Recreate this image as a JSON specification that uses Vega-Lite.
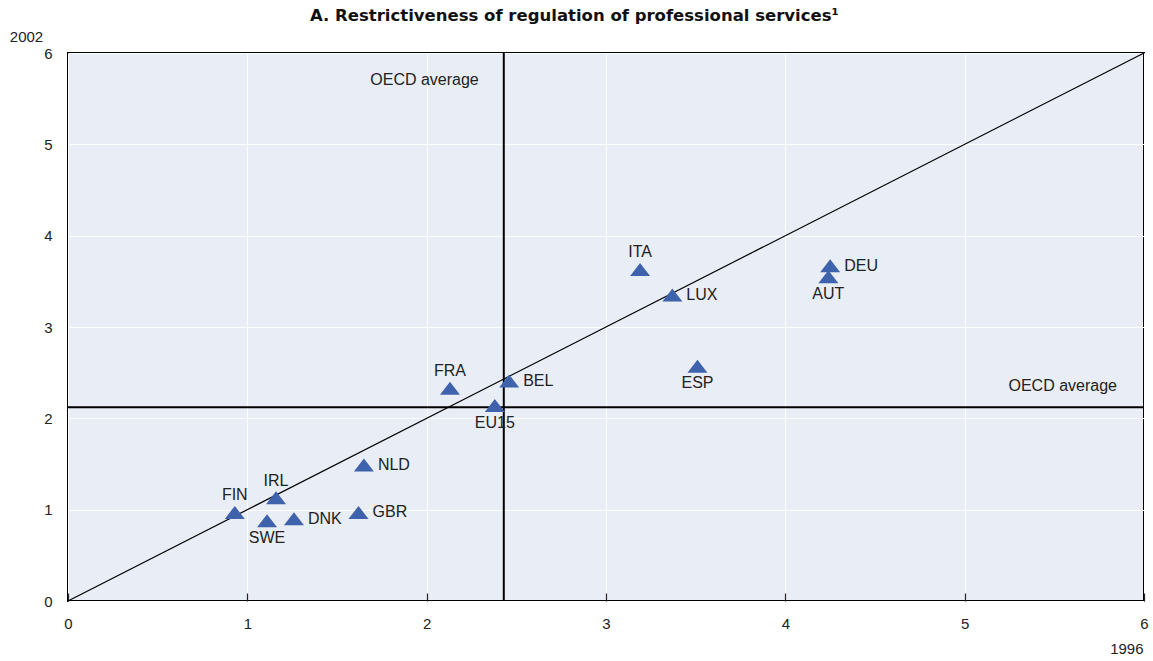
{
  "$schema": "https://vega.github.io/schema/vega-lite/v6.json",
  "width": 1076,
  "height": 548,
  "autosize": "none",
  "padding": {"left": 68, "top": 53, "right": 9, "bottom": 60},
  "background": "white",
  "title": {
    "text": "A. Restrictiveness of regulation of professional services¹",
    "font": "DejaVu Sans",
    "fontSize": 16.5,
    "fontWeight": "bold",
    "color": "#111111",
    "anchor": "start",
    "frame": "group",
    "dx": 242,
    "offset": 5
  },
  "config": {
    "view": {"stroke": "black", "strokeWidth": 2, "fill": "#e9edf5"}
  },
  "datasets": {
    "countries": [
      {"country": "FIN", "y1996": 0.93, "y2002": 0.97},
      {"country": "IRL", "y1996": 1.16, "y2002": 1.13},
      {"country": "SWE", "y1996": 1.11, "y2002": 0.88},
      {"country": "DNK", "y1996": 1.26, "y2002": 0.90},
      {"country": "GBR", "y1996": 1.62, "y2002": 0.97},
      {"country": "NLD", "y1996": 1.65, "y2002": 1.49},
      {"country": "FRA", "y1996": 2.13, "y2002": 2.33},
      {"country": "BEL", "y1996": 2.46, "y2002": 2.41},
      {"country": "EU15", "y1996": 2.38, "y2002": 2.14},
      {"country": "ITA", "y1996": 3.19, "y2002": 3.63},
      {"country": "LUX", "y1996": 3.37, "y2002": 3.35},
      {"country": "ESP", "y1996": 3.51, "y2002": 2.57},
      {"country": "DEU", "y1996": 4.25, "y2002": 3.67},
      {"country": "AUT", "y1996": 4.24, "y2002": 3.55}
    ],
    "oecd": [{"avg1996": 2.43, "avg2002": 2.12}],
    "diagonal": [{"a": 0, "b": 0}, {"a": 6, "b": 6}]
  },
  "layer": [
    {
      "data": {"name": "diagonal"},
      "mark": {"type": "line", "color": "black", "strokeWidth": 1.2},
      "encoding": {
        "x": {
          "field": "a",
          "type": "quantitative",
          "title": "1996",
          "scale": {"domain": [0, 6], "nice": false},
          "axis": {
            "values": [0, 1, 2, 3, 4, 5, 6],
            "format": "d",
            "labelFont": "Liberation Sans",
            "labelFontSize": 15,
            "labelColor": "#222222",
            "labelFlush": false,
            "titleFont": "Liberation Sans",
            "titleFontSize": 15,
            "titleFontWeight": "normal",
            "titleColor": "#222222",
            "grid": true,
            "gridColor": "white",
            "gridWidth": 1,
            "domain": false,
            "ticks": true,
            "tickSize": -8,
            "tickColor": "#222222",
            "tickWidth": 1.2,
            "labelPadding": 23,
            "titleAngle": 0,
            "titleX": 1075,
            "titleY": 47,
            "titleAlign": "right",
            "titleBaseline": "middle"
          }
        },
        "y": {
          "field": "b",
          "type": "quantitative",
          "title": "2002",
          "scale": {"domain": [0, 6], "nice": false},
          "axis": {
            "values": [0, 1, 2, 3, 4, 5, 6],
            "format": "d",
            "labelFont": "Liberation Sans",
            "labelFontSize": 15,
            "labelColor": "#222222",
            "titleFont": "Liberation Sans",
            "titleFontSize": 15,
            "titleFontWeight": "normal",
            "titleColor": "#222222",
            "grid": true,
            "gridColor": "white",
            "gridWidth": 1,
            "domain": false,
            "ticks": false,
            "labelPadding": 16,
            "titleAngle": 0,
            "titleX": -42,
            "titleY": -17,
            "titleAlign": "center",
            "titleBaseline": "middle"
          }
        }
      }
    },
    {
      "data": {"name": "oecd"},
      "mark": {"type": "rule", "color": "black", "strokeWidth": 2},
      "encoding": {
        "x": {"field": "avg1996", "type": "quantitative", "title": "1996"}
      }
    },
    {
      "data": {"name": "oecd"},
      "mark": {"type": "rule", "color": "black", "strokeWidth": 2},
      "encoding": {
        "y": {"field": "avg2002", "type": "quantitative", "title": "2002"}
      }
    },
    {
      "data": {"name": "oecd"},
      "mark": {"type": "text", "text": "OECD average", "font": "Liberation Sans", "fontSize": 16, "color": "#222222", "align": "right", "baseline": "middle", "dx": -25},
      "encoding": {
        "x": {"field": "avg1996", "type": "quantitative", "title": "1996"},
        "y": {"datum": 5.7, "type": "quantitative", "title": "2002"}
      }
    },
    {
      "data": {"name": "oecd"},
      "mark": {"type": "text", "text": "OECD average", "font": "Liberation Sans", "fontSize": 16, "color": "#222222", "align": "right", "baseline": "middle", "dx": -27, "dy": -21},
      "encoding": {
        "x": {"datum": 6, "type": "quantitative", "title": "1996"},
        "y": {"field": "avg2002", "type": "quantitative", "title": "2002"}
      }
    },
    {
      "data": {"name": "countries"},
      "mark": {"type": "point", "shape": "M-1,0.65L1,0.65L0,-0.65Z", "filled": true, "size": 400, "color": "#3f62ad", "opacity": 1},
      "encoding": {
        "x": {"field": "y1996", "type": "quantitative", "title": "1996"},
        "y": {"field": "y2002", "type": "quantitative", "title": "2002"}
      }
    },
    {
      "data": {"name": "countries"},
      "transform": [{"filter": {"field": "country", "oneOf": ["DNK", "GBR", "NLD", "BEL", "LUX", "DEU"]}}],
      "mark": {"type": "text", "font": "Liberation Sans", "fontSize": 16, "color": "#222222", "align": "left", "baseline": "middle", "dx": 14},
      "encoding": {
        "x": {"field": "y1996", "type": "quantitative", "title": "1996"},
        "y": {"field": "y2002", "type": "quantitative", "title": "2002"},
        "text": {"field": "country"}
      }
    },
    {
      "data": {"name": "countries"},
      "transform": [{"filter": {"field": "country", "oneOf": ["FIN", "IRL", "FRA", "ITA"]}}],
      "mark": {"type": "text", "font": "Liberation Sans", "fontSize": 16, "color": "#222222", "align": "center", "baseline": "middle", "dy": -17},
      "encoding": {
        "x": {"field": "y1996", "type": "quantitative", "title": "1996"},
        "y": {"field": "y2002", "type": "quantitative", "title": "2002"},
        "text": {"field": "country"}
      }
    },
    {
      "data": {"name": "countries"},
      "transform": [{"filter": {"field": "country", "oneOf": ["SWE", "EU15", "ESP", "AUT"]}}],
      "mark": {"type": "text", "font": "Liberation Sans", "fontSize": 16, "color": "#222222", "align": "center", "baseline": "middle", "dy": 17},
      "encoding": {
        "x": {"field": "y1996", "type": "quantitative", "title": "1996"},
        "y": {"field": "y2002", "type": "quantitative", "title": "2002"},
        "text": {"field": "country"}
      }
    }
  ]
}
